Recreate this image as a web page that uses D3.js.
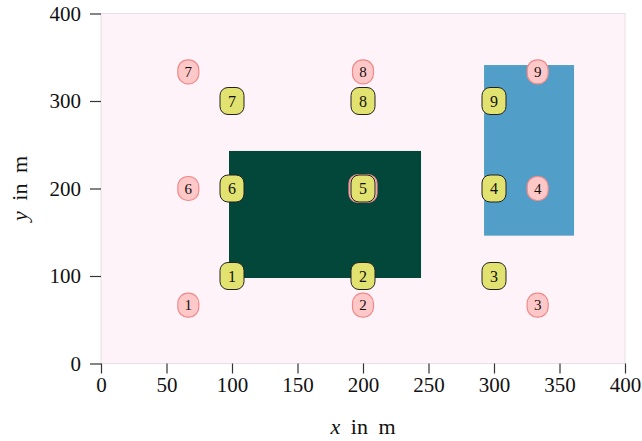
<!DOCTYPE html>
<html>
<head>
<meta charset="utf-8">
<script src="https://cdn.jsdelivr.net/npm/d3@7"></script>
<style>
  html, body { margin: 0; padding: 0; background: #ffffff; }
  svg { display: block; }
  text { font-family: "Liberation Serif", "DejaVu Serif", serif; fill: #111; }
</style>
</head>
<body>
<svg id="chart" width="642" height="441"></svg>
<script>
// Axis ticks
const xTicks = [0, 50, 100, 150, 200, 250, 300, 350, 400];
const yTicks = [0, 100, 200, 300, 400];

// Rectangular zones: [x0, x1, y0, y1] in metres
const zoneNames = ["dark", "blue"];
const zoneX0 = [97.7, 292.4];
const zoneX1 = [244.3, 361.1];
const zoneY0 = [97.7, 146.1];
const zoneY1 = [242.9, 341.1];
const zoneColors = ["#02473a", "#519fc9"];

// Pink nodes (grid of thirds)
const pinkLabels = [1, 2, 3, 4, 5, 6, 7, 8, 9];
const pinkX = [66.67, 200, 333.33, 333.33, 200, 66.67, 66.67, 200, 333.33];
const pinkY = [66.67, 66.67, 66.67, 200, 200, 200, 333.33, 333.33, 333.33];

// Yellow nodes (grid of hundreds)
const yellowLabels = [1, 2, 3, 4, 5, 6, 7, 8, 9];
const yellowX = [100, 200, 300, 300, 200, 100, 100, 200, 300];
const yellowY = [100, 100, 100, 200, 200, 200, 300, 300, 300];

const svg = d3.select("#chart");
const mLeft = 101, mRight = 625, mTop = 13.5, mBottom = 363.5;

const x = d3.scaleLinear().domain([0, 400]).range([mLeft, mRight]);
const y = d3.scaleLinear().domain([0, 400]).range([mBottom, mTop]);

// plot background
svg.append("rect")
  .attr("x", mLeft).attr("y", mTop)
  .attr("width", mRight - mLeft).attr("height", mBottom - mTop)
  .attr("fill", "#fff3fa")
  .attr("stroke", "#e6dfe3").attr("stroke-width", 1);

// zones
svg.append("g").selectAll("rect")
  .data(zoneNames.map((n, i) => ({ n, x0: zoneX0[i], x1: zoneX1[i], y0: zoneY0[i], y1: zoneY1[i], c: zoneColors[i] })))
  .join("rect")
  .attr("x", d => x(d.x0))
  .attr("y", d => y(d.y1))
  .attr("width", d => x(d.x1) - x(d.x0))
  .attr("height", d => y(d.y0) - y(d.y1))
  .attr("fill", d => d.c);

// axes
const xAxis = svg.append("g")
  .attr("transform", `translate(0,${mBottom})`)
  .call(d3.axisBottom(x).tickValues(xTicks).tickSize(10).tickPadding(4).tickFormat(d3.format("d")));
const yAxis = svg.append("g")
  .attr("transform", `translate(${mLeft},0)`)
  .call(d3.axisLeft(y).tickValues(yTicks).tickSize(11).tickPadding(9).tickFormat(d3.format("d")));
[xAxis, yAxis].forEach(g => {
  g.select(".domain").remove();
  g.selectAll(".tick line").attr("stroke", "#333").attr("stroke-width", 1.2);
  g.selectAll(".tick text")
    .attr("font-family", "Liberation Serif, DejaVu Serif, serif")
    .attr("font-size", 21).attr("fill", "#111");
});

const yellowSet = new Set(yellowX.map((v, i) => v + "," + yellowY[i]));

// pink nodes (a node sharing a yellow node's position is drawn as a ring around it)
const pink = pinkLabels.map((l, i) => ({ l, px: pinkX[i], py: pinkY[i],
  shared: yellowSet.has(pinkX[i] + "," + pinkY[i]) }));
const pg = svg.append("g").selectAll("g").data(pink).join("g")
  .attr("transform", d => `translate(${x(d.px)},${y(d.py)})`);
pg.append("rect")
  .attr("x", d => d.shared ? -14 : -10.5)
  .attr("y", d => d.shared ? -14 : -12)
  .attr("width", d => d.shared ? 28 : 21)
  .attr("height", d => d.shared ? 28 : 24)
  .attr("rx", d => d.shared ? 9 : 10)
  .attr("fill", "#ffc8c8")
  .attr("stroke", "#f08a8a").attr("stroke-width", 1.2);
pg.filter(d => !d.shared).append("text")
  .attr("text-anchor", "middle").attr("y", 5)
  .attr("font-size", 15)
  .text(d => d.l);

// yellow nodes
const yellow = yellowLabels.map((l, i) => ({ l, px: yellowX[i], py: yellowY[i] }));
const yg = svg.append("g").selectAll("g").data(yellow).join("g")
  .attr("transform", d => `translate(${x(d.px)},${y(d.py)})`);
yg.append("rect")
  .attr("x", -12).attr("y", -13.5)
  .attr("width", 24).attr("height", 27)
  .attr("rx", 8)
  .attr("fill", "#e1e26f")
  .attr("stroke", "#222").attr("stroke-width", 1);
yg.append("text")
  .attr("text-anchor", "middle").attr("y", 5.5)
  .attr("font-size", 16)
  .text(d => d.l);

// axis titles
const xt = svg.append("text")
  .attr("x", (mLeft + mRight) / 2).attr("y", 434)
  .attr("text-anchor", "middle").attr("font-size", 22)
  .attr("word-spacing", 5);
xt.append("tspan").attr("font-style", "italic").text("x");
xt.append("tspan").text(" in m");

const yt = svg.append("text")
  .attr("transform", `translate(27,${(mTop + mBottom) / 2}) rotate(-90)`)
  .attr("text-anchor", "middle").attr("font-size", 22)
  .attr("word-spacing", 5);
yt.append("tspan").attr("font-style", "italic").text("y");
yt.append("tspan").text(" in m");
</script>
</body>
</html>
